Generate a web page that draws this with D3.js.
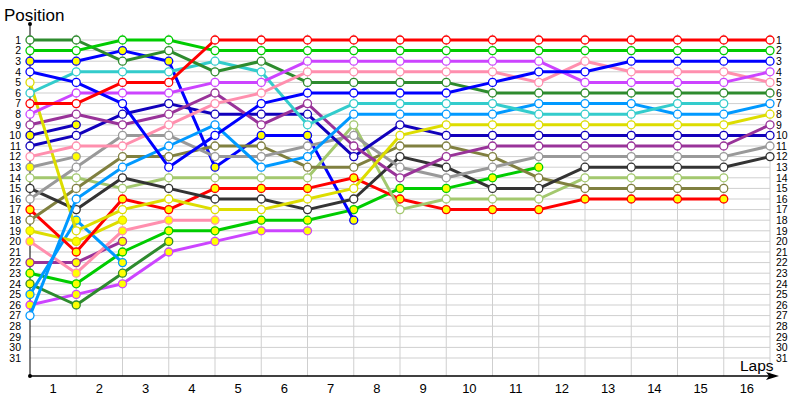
<!DOCTYPE html>
<html>
<head>
<meta charset="utf-8">
<script src="https://cdn.jsdelivr.net/npm/d3@7"></script>
<style>
  body { margin: 0; background: #fff; }
  svg { display: block; font-family: "Liberation Sans", Arial, sans-serif; }
</style>
</head>
<body>
<svg id="chart" width="800" height="400"></svg>
<script>
// lap labels and position ticks
const lapLabels = d3.range(1, 17);
const positionTicks = d3.range(1, 32);

// position of each car at the start (index 0) and after every lap
const redA     = [7,7,5,5,1,1,1,1,1,1,1,1,1,1,1,1,1];
const greenA   = [2,2,1,1,2,2,2,2,2,2,2,2,2,2,2,2,2];
const forestA  = [1,1,3,2,4,3,5,5,5,5,6,6,6,6,6,6,6];
const blueA    = [4,5,7,13,10,7,6,6,6,6,5,4,4,3,3,3,3];
const blueB    = [3,3,2,3,13,10,10,18];
const cyanA    = [6,4,4,4,3,4,9,7,7,7,7,8,8,8,7,7];
const violetA  = [8,6,6,6,5,5,3,3,3,3,3,3,5,5,5,5,4];
const pinkA    = [12,11,11,9,7,6,4,4,4,4,4,5,3,4,4,4,5];
const purpleA  = [9,8,9,8,6,9,7,11,14,12,11,11,11,11,11,11,9];
const navyA    = [11,10,8,7,8,8,8,12,9,10,10,10,10,10,10,10,10];
const navyB    = [10,9];
const yellowA  = [5,19,17,16,17,17,16,15,10,9,9,9,9,9,9,9,8];
const yellowB  = [19,20,18];
const greyA    = [16,13,10,10,12,12,11,10,13,14,13,12,12,12,12,12,11];
const greyB    = [13,12];
const oliveA   = [18,15,12,12,11,11,13,13,11,11,12,14,15,15,15,15];
const limeA    = [14,14,15,14,14,14,14,9,17,16,16,16,14,14,14,14];
const blackA   = [15,17,14,15,16,16,17,16,12,13,15,15,13,13,13,13,12];
const skyA     = [27,16,13,11,9,13,12,8,8,8,8,7,7,7,8,8,7];
const skyB     = [25,18,22];
const redB     = [17,21,16,17,15,15,15,14,16,17,17,17,16,16,16,16];
const greenB   = [23,24,21,19,19,18,18,17,15,15,14,13];
const forestB  = [24,26,23,20];
const violetB  = [26,25,24,21,20,19,19];
const pinkB    = [20,23,19,18,18];
const purpleB  = [22,22,20];

// colour, marker fill
const series = [
  [purpleB, "#993399", true],
  [pinkB, "#ff8fae", true],
  [violetB, "#cc44ff", true],
  [forestB, "#2e8b2e", true],
  [greenB, "#00cc00", true],
  [skyB, "#0099ff", true],
  [yellowB, "#dddd00", true],
  [greyB, "#999999", true],
  [navyB, "#1100bb", true],
  [blueB, "#0000ff", true],
  [redB, "#ff0000", true],
  [limeA, "#a3c86e", false],
  [oliveA, "#808040", false],
  [blackA, "#333333", false],
  [greyA, "#999999", false],
  [navyA, "#1100bb", false],
  [purpleA, "#993399", false],
  [yellowA, "#dddd00", false],
  [skyA, "#0099ff", false],
  [cyanA, "#33cccc", false],
  [forestA, "#2e8b2e", false],
  [pinkA, "#ff8fae", false],
  [violetA, "#cc44ff", false],
  [blueA, "#0000ff", false],
  [greenA, "#00cc00", false],
  [redA, "#ff0000", false]
];

const svg = d3.select("#chart");
const x = d3.scaleLinear().domain([0, 16]).range([30, 770]);
const y = d3.scaleLinear().domain([1, 31]).range([40, 358]);

// grid
svg.append("g").selectAll("line")
  .data(positionTicks)
  .join("line")
  .attr("x1", x(0)).attr("x2", x(16))
  .attr("y1", d => y(d)).attr("y2", d => y(d))
  .attr("stroke", "#cfcfcf").attr("stroke-width", 1);

svg.append("g").selectAll("line")
  .data(d3.range(1, 17))
  .join("line")
  .attr("x1", d => x(d)).attr("x2", d => x(d))
  .attr("y1", 34).attr("y2", 376)
  .attr("stroke", "#cfcfcf").attr("stroke-width", 1);

// axes
svg.append("line").attr("x1", 30).attr("x2", 30).attr("y1", 24).attr("y2", 376)
  .attr("stroke", "#000").attr("stroke-width", 1);
svg.append("circle").attr("cx", 30).attr("cy", 24).attr("r", 2).attr("fill", "#000");
svg.append("circle").attr("cx", 30).attr("cy", 376).attr("r", 2).attr("fill", "#000");
svg.append("line").attr("x1", 30).attr("x2", 772).attr("y1", 376).attr("y2", 376)
  .attr("stroke", "#000").attr("stroke-width", 1.5);
svg.append("path").attr("d", "M779,376 L766,372 L769,376 L766,380 Z").attr("fill", "#000");

svg.append("text").attr("x", 4).attr("y", 21).attr("font-size", 17).text("Position");
svg.append("text").attr("x", 740).attr("y", 371).attr("font-size", 15.5).text("Laps");

// position labels on both sides
svg.append("g").selectAll("text")
  .data(positionTicks)
  .join("text")
  .attr("x", 21).attr("y", d => y(d)).attr("dy", "0.36em")
  .attr("text-anchor", "end").attr("font-size", 10.5)
  .text(d => d);

svg.append("g").selectAll("text")
  .data(positionTicks)
  .join("text")
  .attr("x", 776).attr("y", d => y(d)).attr("dy", "0.36em")
  .attr("font-size", 10.5)
  .text(d => d);

// lap labels
svg.append("g").selectAll("text")
  .data(lapLabels)
  .join("text")
  .attr("x", d => x(d - 0.5)).attr("y", 393)
  .attr("text-anchor", "middle").attr("font-size", 13)
  .text(d => d);

const line = d3.line().x((d, i) => x(i)).y(d => y(d));

series.forEach(([vals, color, filled]) => {
  const g = svg.append("g");
  g.append("path")
    .attr("d", line(vals))
    .attr("fill", "none")
    .attr("stroke", color)
    .attr("stroke-width", 3)
    .attr("stroke-linejoin", "round");
  g.selectAll("circle")
    .data(vals)
    .join("circle")
    .attr("cx", (d, i) => x(i))
    .attr("cy", d => y(d))
    .attr("r", 4)
    .attr("fill", filled ? "#ffff00" : "#fff")
    .attr("stroke", color)
    .attr("stroke-width", 1.3);
});
</script>
</body>
</html>
